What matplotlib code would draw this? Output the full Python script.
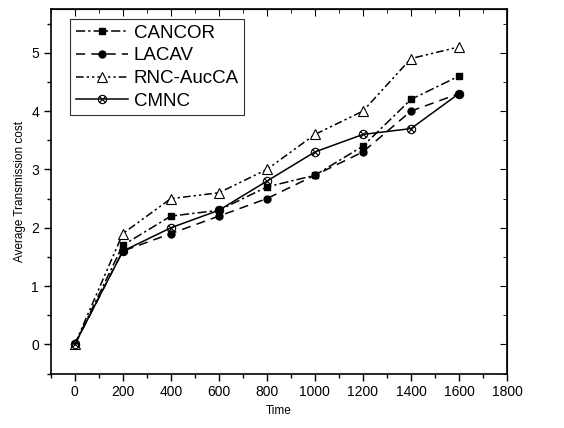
import numpy as np
import matplotlib
matplotlib.use("Agg")
import matplotlib.pyplot as plt
from matplotlib.path import Path
from matplotlib.ticker import MultipleLocator

plt.rcParams['font.family'] = ['Liberation Sans', 'DejaVu Sans']

# data
time = [0, 200, 400, 600, 800, 1000, 1200, 1400, 1600]
cancor = [0, 1.7, 2.2, 2.3, 2.7, 2.9, 3.4, 4.2, 4.6]
lacav = [0, 1.6, 1.9, 2.2, 2.5, 2.9, 3.3, 4.0, 4.3]
rnc_auc = [0, 1.9, 2.5, 2.6, 3.0, 3.6, 4.0, 4.9, 5.1]
cmnc = [0, 1.6, 2.0, 2.3, 2.8, 3.3, 3.6, 3.7, 4.3]

# circle with a cross inside
circ_x = Path.make_compound_path(
    Path.unit_circle(),
    Path([(-0.75, -0.75), (0.75, 0.75)]),
    Path([(-0.75, 0.75), (0.75, -0.75)]),
)

fig = plt.figure(figsize=(5.64, 4.28), dpi=100)
ax = fig.add_axes([0.09, 0.127, 0.809, 0.852])

ax.plot(time, cancor, color='black', lw=1.1, linestyle=(0, (6, 2, 1.5, 2)),
        marker='s', ms=4.5, label='CANCOR')
ax.plot(time, lacav, color='black', lw=1.1, linestyle=(0, (6, 4)),
        marker='o', ms=5, label='LACAV')
ax.plot(time, rnc_auc, color='black', lw=1.1, linestyle=(0, (5, 2, 1.5, 2, 1.5, 2)),
        marker='^', ms=6.5, mfc='white', mew=0.8, label='RNC-AucCA')
ax.plot(time, cmnc, color='black', lw=1.1, linestyle='-',
        marker=circ_x, ms=6, mfc='none', mew=0.8, label='CMNC')

ax.set_xlim(-100, 1800)
ax.set_ylim(-0.5, 5.75)
ax.set_xticks(range(0, 1801, 200))
ax.set_yticks(range(0, 6))
ax.xaxis.set_minor_locator(MultipleLocator(100))
ax.yaxis.set_minor_locator(MultipleLocator(0.5))
ax.tick_params(which='both', direction='out', labelsize=10, width=1)
ax.tick_params(which='major', length=5)
ax.tick_params(which='minor', length=3)

# mirrored ticks pointing inward on top and right
axt = ax.secondary_xaxis('top')
axt.set_xticks(range(0, 1801, 200))
axt.xaxis.set_minor_locator(MultipleLocator(100))
axt.tick_params(which='both', direction='in', labeltop=False)
axt.tick_params(which='major', length=5)
axt.tick_params(which='minor', length=3)
axr = ax.secondary_yaxis('right')
axr.set_yticks(range(0, 6))
axr.yaxis.set_minor_locator(MultipleLocator(0.5))
axr.tick_params(which='both', direction='in', labelright=False)
axr.tick_params(which='major', length=5)
axr.tick_params(which='minor', length=3)

for s in ax.spines.values():
    s.set_linewidth(1.2)

ax.set_xlabel('Time', fontsize=8.5)
ax.set_ylabel('Average Transmission cost', fontsize=8.5)

leg = ax.legend(loc='upper left', bbox_to_anchor=(0.042, 0.973), fontsize=13.5,
                frameon=True, fancybox=False, edgecolor='black',
                handlelength=2.8, handletextpad=0.3, labelspacing=0.3,
                borderpad=0.3, borderaxespad=0)
leg.get_frame().set_linewidth(0.8)

fig.savefig('out.png', dpi=100)
